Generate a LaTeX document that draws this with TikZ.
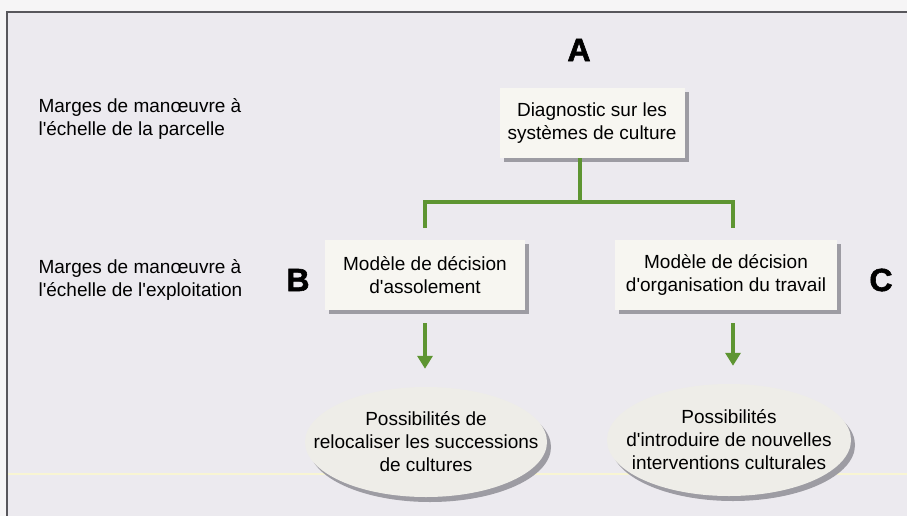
\documentclass[tikz,border=0pt]{standalone}
\usepackage{fontspec}
\setmainfont{Liberation Sans}
\newfontfamily\markfont[BoldFeatures={FakeBold=1.8}]{Liberation Sans}
\usepackage{xcolor}
\usepackage{tikz}
\usetikzlibrary{positioning}
\usetikzlibrary{shadows}
\usetikzlibrary{shapes.geometric,arrows.meta}
\definecolor{paperBg}{HTML}{ECEAEF}
\definecolor{paperEdge}{HTML}{F6F5F6}
\definecolor{frameGray}{HTML}{58575C}
\definecolor{boxFill}{HTML}{F7F6F1}
\definecolor{ovalFill}{HTML}{EEEDE8}
\definecolor{shadowGray}{HTML}{9D9CA3}
\definecolor{leafGreen}{HTML}{5E9532}
\newcommand{\apos}{\textquotesingle}
\tikzset{%
  % ---
  % boxes
  % ---
  diagBox/.style={rectangle, fill=boxFill, minimum width=185pt, minimum height=70pt, align=center,
    drop shadow={shadow xshift=4pt, shadow yshift=-4pt, fill=shadowGray, opacity=1}},
  decisionBox/.style={diagBox, minimum width=200pt},% models of decision
  possOval/.style={ellipse, fill=ovalFill, inner xsep=-45pt, inner ysep=-20pt, align=center,
    drop shadow={shadow xshift=4pt, shadow yshift=-5pt, fill=shadowGray, opacity=1}},
  % ---
  % texts
  % ---
  scaleLabel/.style={anchor=west, align=left},
  letterMark/.style={font=\markfont\bfseries\fontsize{32}{32}\selectfont},
  % ---
  % links
  % ---
  greenLink/.style={draw=leafGreen, line width=4pt},
  greenArrow/.style={greenLink, -{Triangle[width=15pt,length=13pt]}}}

\begin{document}
\begin{tikzpicture}[x=1pt,y=-1pt,font=\fontsize{19}{23}\selectfont]
    \useasboundingbox (0,0) rectangle (907,516);
    \fill[paperEdge] (0,0) rectangle (907,516);
    \fill[paperBg] (7,12) rectangle (907,516);
    \draw[frameGray, line width=2pt] (7,516) -- (7,12) -- (907,12);
    \draw[white!75!yellow!60!paperBg, line width=1.2pt] (8,474) -- (907,474);

    \node[scaleLabel] (parcelle) at (35,119) {Marges de manœuvre à\\l\apos échelle de la parcelle};
    \node[scaleLabel] (exploit) at (35,280) {Marges de manœuvre à\\l\apos échelle de l\apos exploitation};

    \node[letterMark] (markA) at (579,50) {A};
    \node[letterMark] (markB) at (298,280) {B};
    \node[letterMark] (markC) at (881,280) {C};

    \node[diagBox] (diag) at (592,123) {Diagnostic sur les\\systèmes de culture};
    \node[decisionBox] (decB) at (425,275) {Modèle de décision\\d\apos assolement};
    \node[decisionBox, minimum width=222pt] (decC) at (726,275) {Modèle de décision\\d\apos organisation du travail};

    \node[possOval, minimum width=242pt, minimum height=110pt] (possB) at (426,442) {Possibilités de\\relocaliser les successions\\de cultures};
    \node[possOval, minimum width=244pt, minimum height=112pt] (possC) at (729,440) {Possibilités\\d\apos introduire de nouvelles\\interventions culturales};

    \coordinate (fork) at (580,202);
    \coordinate (footB) at (425,228);
    \coordinate (footC) at (733,228);

    \draw[greenLink] (diag.south -| fork) -- (fork);
    \draw[greenLink] (footB) |- (fork) -| (footC);
    \draw[greenArrow, shorten <=13pt, shorten >=18pt] (decB.south -| footB) -- (possB.north -| footB);
    \draw[greenArrow, shorten <=13pt, shorten >=18pt] (decC.south -| footC) -- (possC.north -| footC);

    \end{tikzpicture}
\end{document}
